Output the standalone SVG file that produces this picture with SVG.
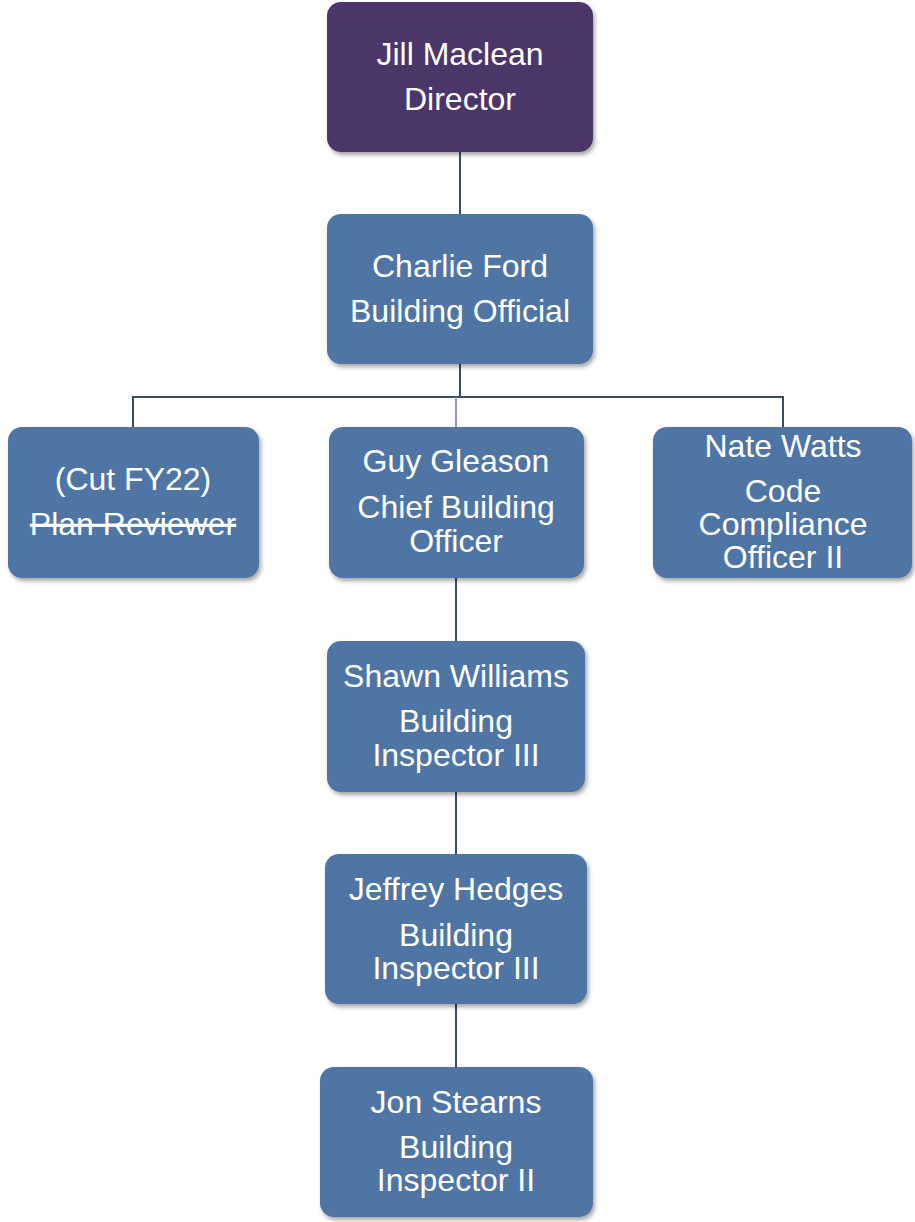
<svg xmlns="http://www.w3.org/2000/svg" width="915" height="1222" viewBox="0 0 915 1222">
<style>
.box{fill:#4F74A4;filter:url(#sh)}
.dir{fill:#4B3669;filter:url(#sh)}
.t{font-size:32px;fill:#fff;text-anchor:middle}
.c{stroke:#344D6B;stroke-width:2;fill:none}
.p{stroke:#A48BC4;stroke-width:2;fill:none}
</style>
<defs>
<filter id="sh" x="-10%" y="-10%" width="125%" height="130%">
<feDropShadow dx="2" dy="3" stdDeviation="2" flood-color="#000" flood-opacity="0.35"/>
</filter>
</defs>
<rect width="915" height="1222" fill="#fff"/>
<g id="connectors">
<path class="c" d="M460 152V214M460 364V397M133 427V397H783V427"/>
<path class="p" d="M456 397V427"/>
<path class="c" d="M456 578V641M456 792V854M456 1004V1067"/>
</g>
<g font-family="'Liberation Sans', Arial, Helvetica, sans-serif">
<g id="jill">
<rect class="dir" x="327" y="2" width="266" height="150" rx="14"/>
<text class="t" x="460" y="65">Jill Maclean</text>
<text class="t" x="460" y="110">Director</text>
</g>
<g id="charlie">
<rect class="box" x="327" y="214" width="266" height="150" rx="14"/>
<text class="t" x="460" y="277">Charlie Ford</text>
<text class="t" x="460" y="322">Building Official</text>
</g>
<g id="plan">
<rect class="box" x="8" y="427" width="251" height="151" rx="14"/>
<text class="t" x="133" y="490">(Cut FY22)</text>
<text class="t" x="133" y="535" text-decoration="line-through">Plan Reviewer</text>
</g>
<g id="guy">
<rect class="box" x="329" y="427" width="255" height="151" rx="14"/>
<text class="t" x="456" y="472">Guy Gleason</text>
<text class="t" x="456" y="518">Chief Building</text>
<text class="t" x="456" y="552">Officer</text>
</g>
<g id="nate">
<rect class="box" x="653" y="427" width="259" height="151" rx="14"/>
<text class="t" x="783" y="457">Nate Watts</text>
<text class="t" x="783" y="502">Code</text>
<text class="t" x="783" y="535">Compliance</text>
<text class="t" x="783" y="568">Officer II</text>
</g>
<g id="shawn">
<rect class="box" x="327" y="641" width="258" height="151" rx="14"/>
<text class="t" x="456" y="687">Shawn Williams</text>
<text class="t" x="456" y="732">Building</text>
<text class="t" x="456" y="766">Inspector III</text>
</g>
<g id="jeffrey">
<rect class="box" x="325" y="854" width="262" height="150" rx="14"/>
<text class="t" x="456" y="900">Jeffrey Hedges</text>
<text class="t" x="456" y="946">Building</text>
<text class="t" x="456" y="979">Inspector III</text>
</g>
<g id="jon">
<rect class="box" x="320" y="1067" width="273" height="150" rx="14"/>
<text class="t" x="456" y="1113">Jon Stearns</text>
<text class="t" x="456" y="1158">Building</text>
<text class="t" x="456" y="1191">Inspector II</text>
</g>
</g>
</svg>
